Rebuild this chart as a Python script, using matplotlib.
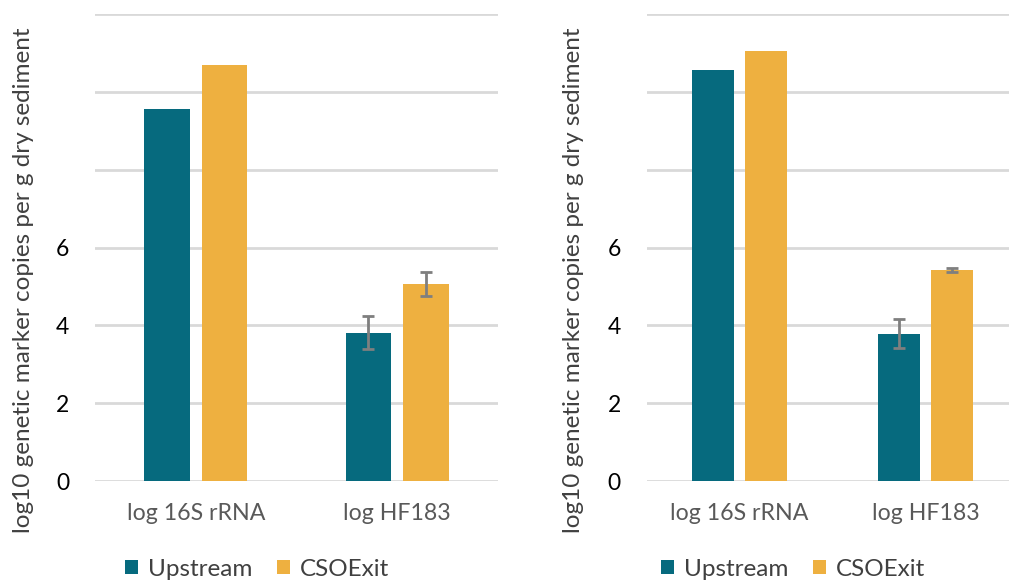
import matplotlib
matplotlib.use("Agg")
import matplotlib.pyplot as plt
import numpy as np

TEAL, GOLD, GRID, ERR = "#066A7E", "#EEB040", "#D9D9D9", "#7F7F7F"
plt.rcParams["font.family"] = ["Lato", "DejaVu Sans"]

categories = ["log 16S rRNA", "log HF183"]
series = ["Upstream", "CSOExit"]

# left panel
left_upstream = [9.57, 3.81]
left_csoexit = [10.69, 5.07]
left_up_err = [0.0, 0.42]
left_cso_err = [0.0, 0.31]

# right panel
right_upstream = [10.56, 3.79]
right_csoexit = [11.05, 5.43]
right_up_err = [0.0, 0.37]
right_cso_err = [0.0, 0.05]

yticks_all = [0, 2, 4, 6, 8, 10, 12]
ytick_labels = ["0", "2", "4", "6", "", "", ""]
ylabel = "log10 genetic marker copies per g dry sediment"

W, H = 1009, 581
fig = plt.figure(figsize=(W / 100, H / 100), dpi=100)


def panel(rect, up, cso, up_err, cso_err, ylab_x, leg_x):
    ax = fig.add_axes(rect)
    x = np.arange(len(categories))
    w, off = 0.225, 0.143
    ekw = dict(ecolor=ERR, elinewidth=2, capsize=4, capthick=2)
    ax.bar(x - off, up, width=w, color=TEAL, yerr=[e if e > 0 else np.nan for e in up_err],
           error_kw=ekw, label=series[0], zorder=2)
    ax.bar(x + off, cso, width=w, color=GOLD, yerr=[e if e > 0 else np.nan for e in cso_err],
           error_kw=ekw, label=series[1], zorder=2)
    ax.set_xlim(-0.5, 1.5)
    ax.set_ylim(0, 12)
    ax.set_yticks(yticks_all)
    ax.set_yticklabels(ytick_labels, fontsize=16.5, color="#000000")
    ax.set_xticks(x)
    ax.set_xticklabels(categories, fontsize=16.7, color="#595959")
    ax.tick_params(length=0)
    ax.tick_params(axis="x", pad=16)
    ax.tick_params(axis="y", pad=18.5)
    ax.grid(True, axis="y", color=GRID, lw=2, zorder=0)
    ax.set_axisbelow(True)
    for s in ax.spines.values():
        s.set_visible(False)
    fig.text(ylab_x, 1 - 280 / H, ylabel, rotation=90, ha="center", va="center",
             fontsize=17.5, color="#404040")
    ax.legend(loc="center left", bbox_to_anchor=(leg_x, 1 - 569 / H), bbox_transform=fig.transFigure,
              ncol=2, frameon=False, fontsize=17.5, handlelength=0.55, handleheight=0.55,
              handletextpad=0.4, columnspacing=1.0, labelcolor="#404040", borderaxespad=0, borderpad=0)
    return ax


panel([95 / W, 1 - 481 / H, 403 / W, 467 / H], left_upstream, left_csoexit,
      left_up_err, left_cso_err, 24 / W, 125 / W)
panel([646.5 / W, 1 - 481 / H, 372 / W, 467 / H], right_upstream, right_csoexit,
      right_up_err, right_cso_err, 574 / W, 661 / W)

fig.savefig("out.png", dpi=100, facecolor="white")
